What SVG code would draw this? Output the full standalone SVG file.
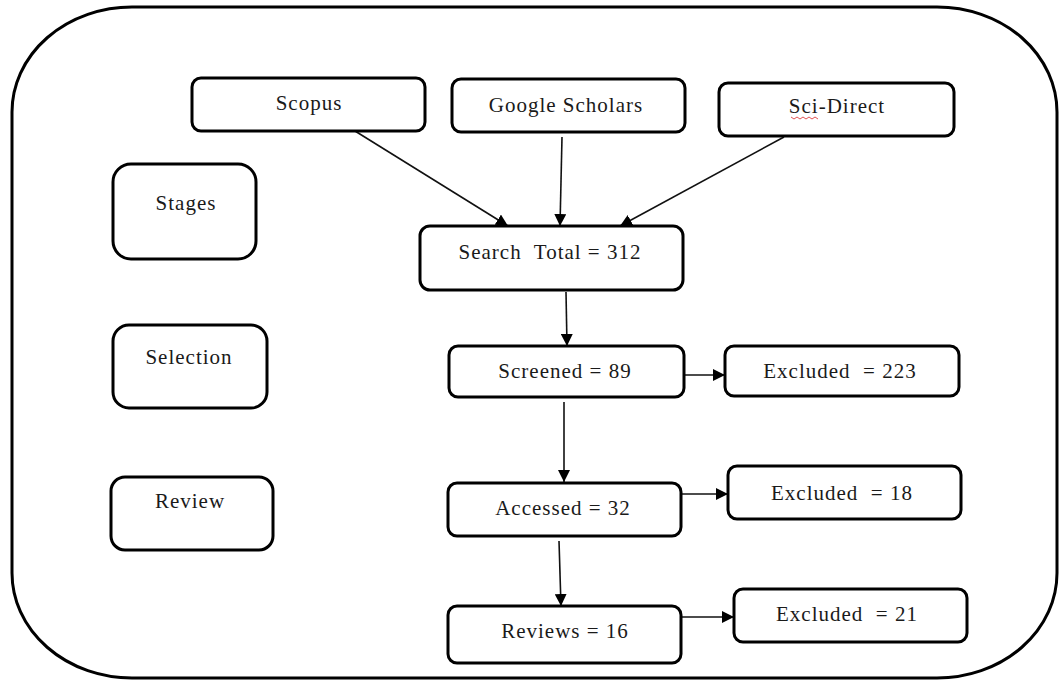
<svg xmlns="http://www.w3.org/2000/svg" width="1059" height="681" viewBox="0 0 1059 681">
<style>
.box{fill:#fff;stroke:#000;stroke-width:3}
.frame{fill:#fff;stroke:#000;stroke-width:3}
.lbl{font-family:"Liberation Serif","Times New Roman","DejaVu Serif",serif;font-size:21px;fill:#1a1a1a;text-anchor:middle;letter-spacing:1px}
.conn line{stroke:#111;stroke-width:1.6;fill:none;marker-end:url(#arr)}
</style>
<defs>
<marker id="arr" markerUnits="userSpaceOnUse" markerWidth="14" markerHeight="12" refX="12" refY="6" orient="auto">
<path d="M0,0 L12,6 L0,12 Z" fill="#000"/>
</marker>
</defs>
<rect width="1059" height="681" fill="#fff"/>
<g id="frame"><rect class="frame" x="12" y="7" width="1045" height="671" rx="120" ry="105"/></g>

<g id="connectors" class="conn">
<line x1="355" y1="131" x2="508" y2="226"/>
<line x1="562" y1="137" x2="560" y2="226"/>
<line x1="784" y1="137" x2="620" y2="226"/>
<line x1="566" y1="292" x2="567" y2="346"/>
<line x1="684" y1="375" x2="725" y2="375"/>
<line x1="564" y1="402" x2="564" y2="482"/>
<line x1="681" y1="494" x2="728" y2="494"/>
<line x1="559" y1="541" x2="561" y2="606"/>
<line x1="681" y1="617" x2="734" y2="617"/>
</g>

<g id="scopus"><rect class="box" x="192" y="78" width="233" height="53" rx="9"/><text class="lbl" x="309" y="110">Scopus</text></g>
<g id="google"><rect class="box" x="452" y="79" width="233" height="53" rx="9"/><text class="lbl" x="566" y="112">Google Scholars</text></g>
<g id="scidirect"><rect class="box" x="719" y="83" width="235" height="53" rx="9"/><text class="lbl" x="837" y="113">Sci-Direct</text>
<path d="M791,117 l3,2 l3,-2 l3,2 l3,-2 l3,2 l3,-2 l3,2 l3,-2 l3,2" fill="none" stroke="#e04040" stroke-width="0.9"/></g>
<g id="search"><rect class="box" x="420" y="226" width="263" height="64" rx="10"/><text class="lbl" x="550" y="259" xml:space="preserve">Search  Total = 312</text></g>
<g id="screened"><rect class="box" x="449" y="346" width="235" height="51" rx="9"/><text class="lbl" x="565" y="378">Screened = 89</text></g>
<g id="excl223"><rect class="box" x="725" y="346" width="234" height="50" rx="9"/><text class="lbl" x="840" y="378" xml:space="preserve">Excluded  = 223</text></g>
<g id="accessed"><rect class="box" x="448" y="483" width="233" height="53" rx="9"/><text class="lbl" x="563" y="515">Accessed = 32</text></g>
<g id="excl18"><rect class="box" x="728" y="466" width="233" height="53" rx="9"/><text class="lbl" x="842" y="500" xml:space="preserve">Excluded  = 18</text></g>
<g id="reviews"><rect class="box" x="448" y="606" width="233" height="57" rx="9"/><text class="lbl" x="565" y="638">Reviews = 16</text></g>
<g id="excl21"><rect class="box" x="734" y="589" width="233" height="53" rx="9"/><text class="lbl" x="847" y="621" xml:space="preserve">Excluded  = 21</text></g>

<g id="stages"><rect class="box" x="113" y="164" width="143" height="95" rx="18"/><text class="lbl" x="186" y="210">Stages</text></g>
<g id="selection"><rect class="box" x="113" y="325" width="154" height="83" rx="16"/><text class="lbl" x="189" y="364">Selection</text></g>
<g id="review"><rect class="box" x="111" y="477" width="162" height="73" rx="14"/><text class="lbl" x="190" y="508">Review</text></g>
</svg>
